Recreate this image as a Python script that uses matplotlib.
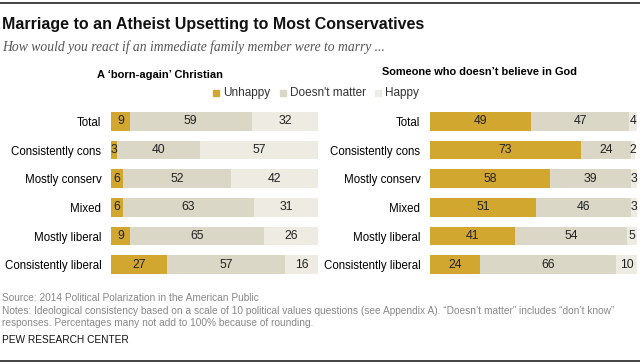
import matplotlib
matplotlib.use('Agg')
import matplotlib.pyplot as plt
from matplotlib.patches import Rectangle

plt.rcParams['font.family'] = ['Liberation Sans', 'DejaVu Sans']

groups = ['Total', 'Consistently cons', 'Mostly conserv', 'Mixed',
          'Mostly liberal', 'Consistently liberal']
born_unhappy = [9, 3, 6, 6, 9, 27]
born_nomatter = [59, 40, 52, 63, 65, 57]
born_happy = [32, 57, 42, 31, 26, 16]
ath_unhappy = [49, 73, 58, 51, 41, 24]
ath_nomatter = [47, 24, 39, 46, 54, 66]
ath_happy = [4, 2, 3, 3, 5, 10]

legend_names = ['Unhappy', "Doesn't matter", 'Happy']
colors = ['#D1A730', '#DAD7C7', '#EEEBE3']

W, H = 640, 364
fig = plt.figure(figsize=(W / 100, H / 100), dpi=100)


def px(x0, y0, x1, y1):
    return [x0 / W, 1 - y1 / H, (x1 - x0) / W, (y1 - y0) / H]


def panel(rect, series):
    ax = fig.add_axes(rect)
    left = [0] * len(groups)
    for vals, c in zip(series, colors):
        ax.barh(range(len(groups)), vals, left=left, height=0.66, color=c)
        for i, v in enumerate(vals):
            ax.text(left[i] + v / 2, i, str(v), ha='center', va='center',
                    fontsize=8.8, color='#222222')
        left = [l + v for l, v in zip(left, vals)]
    ax.set_xlim(0, 100)
    ax.set_ylim(len(groups) - 0.5, -0.5)
    ax.set_yticks(range(len(groups)))
    ax.set_yticklabels(groups, fontsize=8.3)
    ax.tick_params(length=0, pad=7, bottom=False, labelbottom=False)
    for s in ax.spines.values():
        s.set_visible(False)
    return ax


panel(px(111, 107, 318, 279), [born_unhappy, born_nomatter, born_happy])
panel(px(430, 107, 637, 279), [ath_unhappy, ath_nomatter, ath_happy])

# top and bottom rules
fig.add_artist(plt.Line2D([0, 1], [1 - 3 / H, 1 - 3 / H], color='#222222', lw=1.2))
fig.add_artist(plt.Line2D([0, 1], [1 - 361 / H, 1 - 361 / H], color='#222222', lw=1.2))

fig.text(2 / W, 1 - 25 / H, 'Marriage to an Atheist Upsetting to Most Conservatives',
         fontsize=11.5, fontweight='bold', va='center', color='#111111')
fig.text(2 / W, 1 - 47 / H, 'How would you react if an immediate family member were to marry ...',
         fontsize=9.8, style='italic', va='center', color='#555555',
         family=['Liberation Serif', 'DejaVu Serif'])
fig.text(160 / W, 1 - 75 / H, "A \u2018born-again\u2019 Christian", fontsize=8,
         fontweight='bold', ha='center', va='center')
fig.text(479 / W, 1 - 72 / H, 'Someone who doesn\u2019t believe in God', fontsize=7.9,
         fontweight='bold', ha='center', va='center')

# legend
lx = [213, 280, 375]
for x, name, c in zip(lx, legend_names, colors):
    fig.add_artist(Rectangle((x / W, 1 - 96 / H), 6 / W, 6 / H, color=c,
                             transform=fig.transFigure))
    fig.text((x + 10) / W, 1 - 93 / H, name, fontsize=8.5, va='center', color='#333333')

fig.text(2 / W, 1 - 298 / H, 'Source: 2014 Political Polarization in the American Public',
         fontsize=7.3, color='#888888', va='center')
fig.text(2 / W, 1 - 311 / H,
         'Notes: Ideological consistency based on a scale of 10 political values questions '
         '(see Appendix A). \u201cDoesn\u2019t matter\u201d includes \u201cdon\u2019t know\u201d',
         fontsize=7.3, color='#888888', va='center')
fig.text(2 / W, 1 - 323 / H,
         'responses. Percentages many not add to 100% because of rounding.',
         fontsize=7.3, color='#888888', va='center')
fig.text(2 / W, 1 - 340 / H, 'PEW RESEARCH CENTER', fontsize=7.3, color='#111111', va='center')

fig.savefig('out.png', dpi=100)
